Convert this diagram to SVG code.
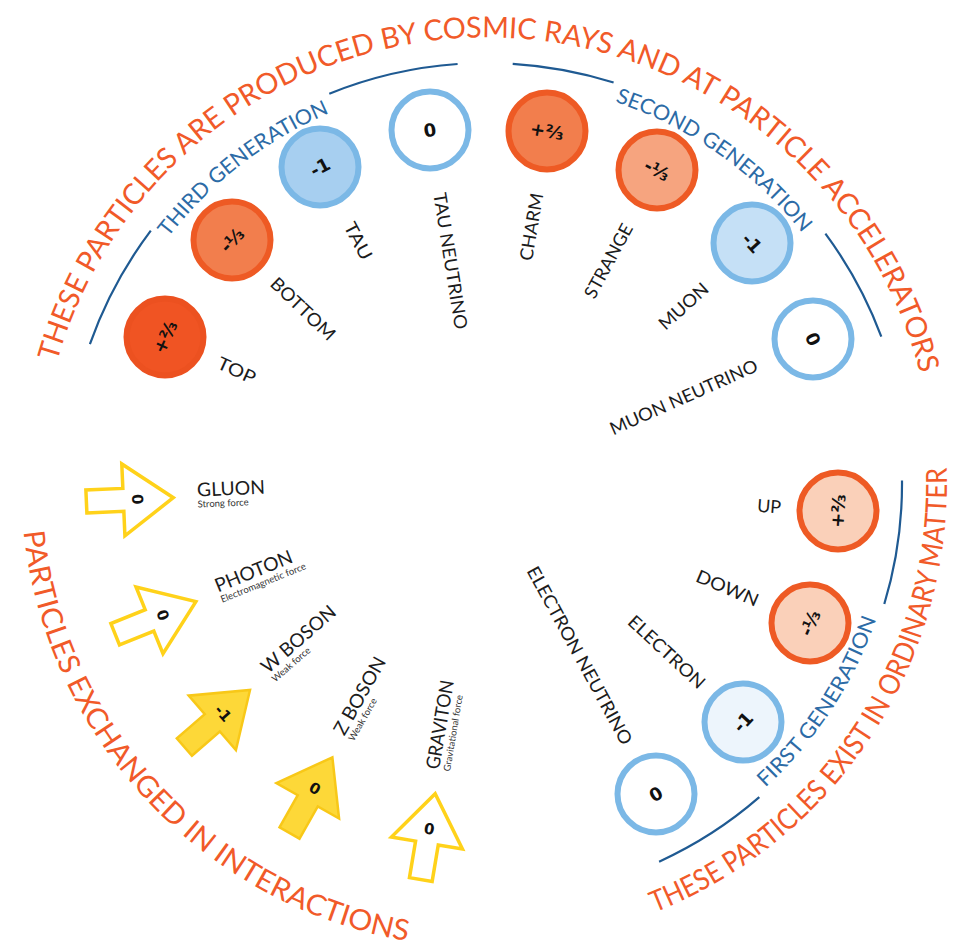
<svg xmlns="http://www.w3.org/2000/svg" xmlns:xlink="http://www.w3.org/1999/xlink" width="974" height="942" viewBox="0 0 974 942">
<style>
.cap{font-family:Lato,"Liberation Sans",sans-serif;font-size:29px;fill:#F15A29}
.gen{font-family:Lato,"Liberation Sans",sans-serif;font-size:21px;fill:#2C6BA6}
.gline{fill:none;stroke:#1F5A92;stroke-width:2.2}
.lbl{font-family:Lato,"Liberation Sans",sans-serif;font-size:18px;fill:#1c1c1c;dominant-baseline:central}
.chg{font-family:"DejaVu Sans",sans-serif;font-weight:bold;font-size:18px;fill:#111;text-anchor:middle;dominant-baseline:central}
.bname{font-family:Lato,"Liberation Sans",sans-serif;font-size:19px;fill:#1c1c1c}
.bsub{font-family:Lato,"Liberation Sans",sans-serif;font-size:9.5px;fill:#333}
.p{stroke-width:6}
.top{fill:#F05423;stroke:#EC5120}
.q2{fill:#F27E4D;stroke:#EE5A24}
.q3{fill:#F6A47F;stroke:#EE5A24}
.q1{fill:#FAD0B9;stroke:#EE5A24}
.l3{fill:#A7CFF0;stroke:#7BB8E6}
.l2{fill:#C5E0F6;stroke:#7BB8E6}
.l1{fill:#EDF5FC;stroke:#7BB8E6}
.nu{fill:#FFFFFF;stroke:#7BB8E6}
.ao{fill:#FFFFFF;stroke:#FFD21A;stroke-width:3.5;stroke-linejoin:miter}
.af{fill:#FDD838;stroke:#F8C818;stroke-width:2.5}
</style>
<defs>
<path id="pTop" d="M 57,362 A 447 447 0 0 1 927,406"/>
<path id="pBL" d="M 23.6,531.5 A 466 466 0 0 0 446.4,946.2"/>
<path id="pBR" d="M 654.8,912.3 A 460 460 0 0 0 942.5,420"/>
<path id="pThird" d="M 168.1,237.6 A 403 403 0 0 1 362.5,100.7"/>
<path id="pSecond" d="M 614.9,101.8 A 403 403 0 0 1 836,282.5"/>
<path id="pFirst" d="M 765.3,787.8 A 412 412 0 0 0 892.7,555.5"/>
<path id="arrow" d="M 401,-11.5 H 364 V -36 L 314,0 L 364,36 V 11.5 H 401 Z"/>
</defs>

<g id="captions">
<text class="cap"><textPath xlink:href="#pTop" href="#pTop" textLength="1168" lengthAdjust="spacingAndGlyphs">THESE PARTICLES ARE PRODUCED BY COSMIC RAYS AND AT PARTICLE ACCELERATORS</textPath></text>
<text class="cap"><textPath xlink:href="#pBL" href="#pBL" textLength="602" lengthAdjust="spacingAndGlyphs">PARTICLES EXCHANGED IN INTERACTIONS</textPath></text>
<text class="cap"><textPath xlink:href="#pBR" href="#pBR" textLength="567" lengthAdjust="spacingAndGlyphs">THESE PARTICLES EXIST IN ORDINARY MATTER</textPath></text>
</g>

<g id="generations">
<path class="gline" d="M 89.9,344.2 A 421 421 0 0 1 150.8,230.6"/>
<path class="gline" d="M 329.3,93.7 A 421 421 0 0 1 457.6,64"/>
<path class="gline" d="M 512.7,63.8 A 421 421 0 0 1 613.6,82.5"/>
<path class="gline" d="M 825.4,233.6 A 421 421 0 0 1 881.3,336.6"/>
<path class="gline" d="M 902,480.4 A 415 415 0 0 1 884.3,604"/>
<path class="gline" d="M 759.3,797.2 A 415 415 0 0 1 659.1,861.7"/>
<text class="gen"><textPath xlink:href="#pThird" href="#pThird" textLength="206" lengthAdjust="spacingAndGlyphs">THIRD GENERATION</textPath></text>
<text class="gen"><textPath xlink:href="#pSecond" href="#pSecond" textLength="232" lengthAdjust="spacingAndGlyphs">SECOND GENERATION</textPath></text>
<text class="gen"><textPath xlink:href="#pFirst" href="#pFirst" textLength="204" lengthAdjust="spacingAndGlyphs">FIRST GENERATION</textPath></text>
</g>

<g id="top-quark">
<circle class="p top" cx="165" cy="337" r="38.5"/>
<text class="chg" transform="translate(165,337) rotate(-65.46)">+⅔</text>
<text class="lbl" transform="translate(218.6,361.5) rotate(24.54)" textLength="40" lengthAdjust="spacingAndGlyphs">TOP</text>
</g>
<g id="bottom-quark">
<circle class="p q2" cx="232" cy="240" r="38.5"/>
<text class="chg" transform="translate(232,240) rotate(-46.26)">-⅓</text>
<text class="lbl" transform="translate(273.8,280) rotate(43.74)" textLength="82" lengthAdjust="spacingAndGlyphs">BOTTOM</text>
</g>
<g id="tau">
<circle class="p l3" cx="320" cy="167" r="38.5"/>
<text class="chg" transform="translate(320,167) rotate(-27.78)">-1</text>
<text class="lbl" transform="translate(349.5,223) rotate(62.22)" textLength="40" lengthAdjust="spacingAndGlyphs">TAU</text>
</g>
<g id="tau-neutrino">
<circle class="p nu" cx="430" cy="130" r="38.5"/>
<text class="chg" transform="translate(430,130) rotate(-9.15)">0</text>
<text class="lbl" transform="translate(440.1,192.7) rotate(80.85)" textLength="138" lengthAdjust="spacingAndGlyphs">TAU NEUTRINO</text>
</g>
<g id="charm-quark">
<circle class="p q2" cx="547" cy="131" r="38.5"/>
<text class="chg" transform="translate(547,131) rotate(9.65)">+⅔</text>
<text class="lbl" text-anchor="end" transform="translate(536.5,193.2) rotate(-80.35)" textLength="68" lengthAdjust="spacingAndGlyphs">CHARM</text>
</g>
<g id="strange-quark">
<circle class="p q3" cx="657" cy="170" r="38.5"/>
<text class="chg" transform="translate(657,170) rotate(28.43)">-⅓</text>
<text class="lbl" text-anchor="end" transform="translate(627.4,224.6) rotate(-61.57)" textLength="82" lengthAdjust="spacingAndGlyphs">STRANGE</text>
</g>
<g id="muon">
<circle class="p l2" cx="752" cy="243" r="38.5"/>
<text class="chg" transform="translate(752,243) rotate(47.72)">-1</text>
<text class="lbl" text-anchor="end" transform="translate(705.2,285.5) rotate(-42.28)" textLength="60" lengthAdjust="spacingAndGlyphs">MUON</text>
</g>
<g id="muon-neutrino">
<circle class="p nu" cx="813" cy="339" r="38.5"/>
<text class="chg" transform="translate(813,339) rotate(66.02)">0</text>
<text class="lbl" text-anchor="end" transform="translate(756.5,364.1) rotate(-23.98)" textLength="160" lengthAdjust="spacingAndGlyphs">MUON NEUTRINO</text>
</g>
<g id="up-quark">
<circle class="p q1" cx="838" cy="511" r="38.5"/>
<text class="chg" transform="translate(838,511) rotate(-85.6)">+⅔</text>
<text class="lbl" text-anchor="end" transform="translate(781.1,506.6) rotate(4.4)" textLength="24" lengthAdjust="spacingAndGlyphs">UP</text>
</g>
<g id="down-quark">
<circle class="p q1" cx="810" cy="623" r="38.5"/>
<text class="chg" transform="translate(810,623) rotate(-66.72)">-⅓</text>
<text class="lbl" text-anchor="end" transform="translate(758,600.6) rotate(23.28)" textLength="66" lengthAdjust="spacingAndGlyphs">DOWN</text>
</g>
<g id="electron">
<circle class="p l1" cx="743" cy="722" r="38.5"/>
<text class="chg" transform="translate(743,722) rotate(-47.08)">-1</text>
<text class="lbl" text-anchor="end" transform="translate(703.1,684.9) rotate(42.92)" textLength="98" lengthAdjust="spacingAndGlyphs">ELECTRON</text>
</g>
<g id="electron-neutrino">
<circle class="p nu" cx="656" cy="794" r="38.5"/>
<text class="chg" transform="translate(656,794) rotate(-28.6)">0</text>
<text class="lbl" text-anchor="end" transform="translate(628.2,743) rotate(61.4)" textLength="200" lengthAdjust="spacingAndGlyphs">ELECTRON NEUTRINO</text>
</g>

<g id="gluon">
<g transform="translate(487,484) rotate(177.5)">
<use href="#arrow" xlink:href="#arrow" class="ao"/>
<text class="chg" style="font-size:15px" transform="translate(350,0) rotate(-90)">0</text>
</g>
<g transform="translate(197.3,496.6) rotate(-2.5)">
<text class="bname" textLength="68" lengthAdjust="spacingAndGlyphs">GLUON</text>
<text class="bsub" y="11">Strong force</text>
</g>
</g>
<g id="photon">
<g transform="translate(487,484) rotate(158)">
<use href="#arrow" xlink:href="#arrow" class="ao"/>
<text class="chg" style="font-size:15px" transform="translate(350,0) rotate(-90)">0</text>
</g>
<g transform="translate(218.1,592.6) rotate(-22)">
<text class="bname" textLength="82" lengthAdjust="spacingAndGlyphs">PHOTON</text>
<text class="bsub" y="11">Electromagnetic force</text>
</g>
</g>
<g id="w-boson">
<g transform="translate(487,484) rotate(139)">
<use href="#arrow" xlink:href="#arrow" class="af"/>
<text class="chg" style="font-size:15px" transform="translate(350,0) rotate(-90)">-1</text>
</g>
<g transform="translate(268.1,674.3) rotate(-41)">
<text class="bname" textLength="92" lengthAdjust="spacingAndGlyphs">W BOSON</text>
<text class="bsub" y="11">Weak force</text>
</g>
</g>
<g id="z-boson">
<g transform="translate(487,484) rotate(119.5)">
<use href="#arrow" xlink:href="#arrow" class="af"/>
<text class="chg" style="font-size:15px" transform="translate(350,0) rotate(-90)">0</text>
</g>
<g transform="translate(344.2,736.4) rotate(-60.5)">
<text class="bname" textLength="86" lengthAdjust="spacingAndGlyphs">Z BOSON</text>
<text class="bsub" y="11">Weak force</text>
</g>
</g>
<g id="graviton">
<g transform="translate(487,484) rotate(99.5)">
<use href="#arrow" xlink:href="#arrow" class="ao"/>
<text class="chg" style="font-size:15px" transform="translate(350,0) rotate(-90)">0</text>
</g>
<g transform="translate(439.1,770) rotate(-80.5)">
<text class="bname" textLength="90" lengthAdjust="spacingAndGlyphs">GRAVITON</text>
<text class="bsub" y="11">Gravitational force</text>
</g>
</g>

<g id="connectors"></g>
</svg>
